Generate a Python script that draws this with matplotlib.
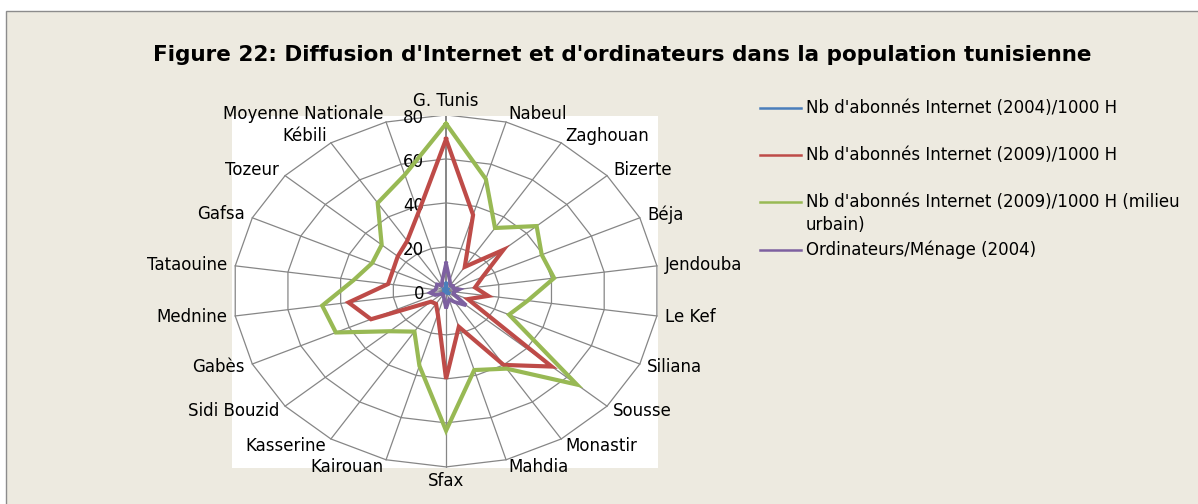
import numpy as np
import matplotlib.pyplot as plt
from matplotlib.patches import Rectangle
from matplotlib.lines import Line2D

plt.rcParams['font.family'] = ['DejaVu Sans']

categories = ["G. Tunis", "Nabeul", "Zaghouan", "Bizerte", "Béja", "Jendouba",
              "Le Kef", "Siliana", "Sousse", "Monastir", "Mahdia", "Sfax",
              "Kairouan", "Kasserine", "Sidi Bouzid", "Gabès", "Mednine",
              "Tataouine", "Gafsa", "Tozeur", "Kébili", "Moyenne Nationale"]

internet_2004 = [3.5, 1, 0.5, 0.8, 0.5, 0.5, 0.5, 0.4, 2, 1.3, 0.6, 1.5,
                 0.4, 0.3, 0.3, 0.8, 0.9, 0.8, 0.6, 1, 0.6, 1.3]
internet_2009 = [69, 36, 13, 28.5, 15, 11, 16, 9, 52.5, 40, 17, 40,
                 11, 7, 7.5, 31, 37, 22, 22, 24, 27, 37]
internet_2009_urb = [76, 53, 34, 45, 39.5, 41, 31, 26, 65, 42, 37.5, 63.5,
                     35.5, 22, 28, 45.5, 47, 35, 30.5, 32, 47.5, 55]
ordinateurs_2004 = [12.5, 5, 3, 3.5, 3, 5, 3, 3, 10, 6, 4, 8,
                    3, 2, 2, 4.5, 6, 4, 4, 4.5, 3, 5]

series_names = ["Nb d'abonnés Internet (2004)/1000 H",
                "Nb d'abonnés Internet (2009)/1000 H",
                "Nb d'abonnés Internet (2009)/1000 H (milieu\nurbain)",
                "Ordinateurs/Ménage (2004)"]
series_colors = ['#4A7EBB', '#BE4B48', '#98B954', '#7D60A0']
rings = [20, 40, 60, 80]

W, H = 1198, 504
fig = plt.figure(figsize=(W / 100, H / 100), dpi=100, facecolor='white')
fig.patches.append(Rectangle((6 / W, -0.1), 1.2, 1.1 - 11 / H, transform=fig.transFigure,
                             facecolor='#EDEAE0', edgecolor='#8C8C8C', lw=1, zorder=-5))

ax = fig.add_axes([232 / W, 1 - 468 / H, 426 / W, 352 / H])
ax.set_zorder(2)
ax.set_facecolor('white')
ax.set_xlim(-80.4, 79.6)
ax.set_ylim(-80.5, 79.5)
ax.set_xticks([])
ax.set_yticks([])
for s in ax.spines.values():
    s.set_visible(False)

n = len(categories)
theta = np.arange(n) * 2 * np.pi / n
sx = np.sin(theta)
cy = np.cos(theta)
grid_c = '#868686'

# polygon rings
for r in rings:
    ax.plot(np.append(r * sx, r * sx[0]), np.append(r * cy, r * cy[0]),
            color=grid_c, lw=0.9, zorder=1)
# spokes
for k in range(n):
    ax.plot([0, rings[-1] * sx[k]], [0, rings[-1] * cy[k]], color=grid_c,
            lw=1.4 if k == 0 else 0.9, zorder=1)

# ring value labels
for r in [0] + rings:
    ax.annotate(str(r), (0, r), xytext=(-22, -3), textcoords='offset pixels',
                ha='right', va='center', fontsize=12, color='black',
                annotation_clip=False)

# category labels
for k, cat in enumerate(categories):
    if abs(sx[k]) < 0.05:
        ha = 'center'
        va = 'bottom' if cy[k] > 0 else 'top'
        off = (0, 5 if cy[k] > 0 else -5)
    else:
        ha = 'left' if sx[k] > 0 else 'right'
        va = 'center'
        off = (8 * sx[k], 8 * cy[k])
    ax.annotate(cat, (rings[-1] * sx[k], rings[-1] * cy[k]), xytext=off,
                textcoords='offset pixels', ha=ha, va=va, fontsize=12,
                annotation_clip=False)

all_series = [internet_2004, internet_2009, internet_2009_urb, ordinateurs_2004]
widths = [2.2, 3.0, 3.0, 2.7]
for vals, col, lw in zip(all_series, series_colors, widths):
    v = np.array(vals)
    ax.plot(np.append(v * sx, v[0] * sx[0]), np.append(v * cy, v[0] * cy[0]),
            color=col, lw=lw, solid_joinstyle='miter', zorder=3)

# title
fig.text(622 / W, 1 - 55 / H,
         "Figure 22: Diffusion d'Internet et d'ordinateurs dans la population tunisienne",
         ha='center', va='center', fontsize=15.5, fontweight='bold')

# legend
rows = [108, 155, 202, 250]
for name, col, y in zip(series_names, series_colors, rows):
    fig.add_artist(Line2D([760 / W, 801 / W], [1 - y / H, 1 - y / H], color=col, lw=1.8))
    lines = name.split('\n')
    for i, ln in enumerate(lines):
        fig.text(806 / W, 1 - (y + 23 * i) / H, ln, ha='left', va='center', fontsize=12)

fig.savefig('out.png', dpi=100, facecolor=fig.get_facecolor())
